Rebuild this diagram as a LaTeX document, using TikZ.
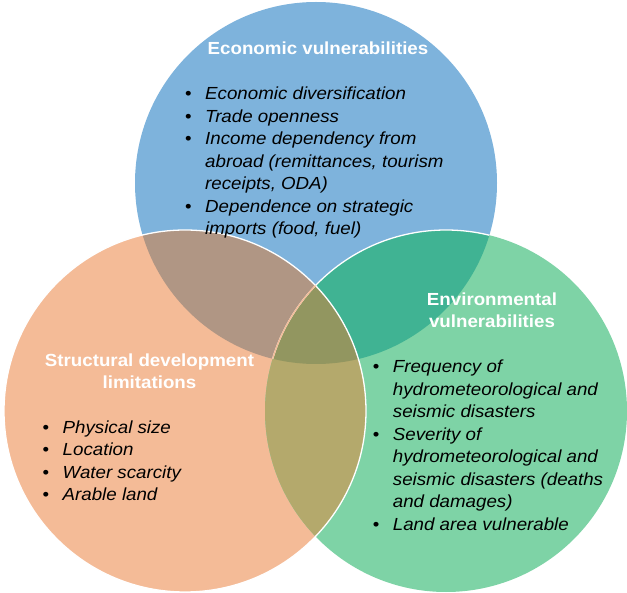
\documentclass[tikz,border=0pt]{standalone}
\usepackage{fontspec}
\setmainfont{Liberation Sans}[FakeStretch=1.07]
\definecolor{cblue}{HTML}{7EB3DC}
\definecolor{corange}{HTML}{F4BB97}
\definecolor{cgreen}{HTML}{7ED3A6}
\definecolor{cbo}{HTML}{B09684}
\definecolor{cbg}{HTML}{40B393}
\definecolor{cog}{HTML}{B4A96C}
\definecolor{cbog}{HTML}{929660}
\newcommand\bitem{\llap{\upshape •\hspace{13.5pt}}}
\tikzset{
  title/.style={inner sep=0pt, anchor=base, text=white, font={\fontsize{17.5}{21.5}\selectfont\bfseries}},
  blist/.style={inner sep=0pt, anchor=base west, text=black, font={\fontsize{17.5}{22.5}\selectfont\itshape}}
}
\begin{document}
\begin{tikzpicture}[x=1pt,y=-1pt]
\useasboundingbox (0,0) rectangle (627,593);
\coordinate (B) at (316,183);
\coordinate (O) at (185,411);
\coordinate (G) at (446,411);
\def\R{181pt}
\fill[cblue] (B) circle[radius=\R];
\fill[corange] (O) circle[radius=\R];
\fill[cgreen] (G) circle[radius=\R];
\begin{scope}\clip (B) circle[radius=\R]; \fill[cbo] (O) circle[radius=\R]; \end{scope}
\begin{scope}\clip (B) circle[radius=\R]; \fill[cbg] (G) circle[radius=\R]; \end{scope}
\begin{scope}\clip (O) circle[radius=\R]; \fill[cog] (G) circle[radius=\R]; \end{scope}
\begin{scope}\clip (B) circle[radius=\R]; \clip (O) circle[radius=\R]; \fill[cbog] (G) circle[radius=\R]; \end{scope}
\draw[white, line width=1.3pt] (O) circle[radius=\R];
\begin{scope}\clip (B) circle[radius=\R]; \draw[white, line width=1.3pt] (G) circle[radius=\R]; \end{scope}
\begin{scope}\clip (B) circle[radius=\R]; \clip (O) circle[radius=\R]; \draw[corange, line width=1.3pt] (G) circle[radius=\R]; \end{scope}

\node[title] (econtitle) at (318,54.3) {Economic vulnerabilities};
\node[blist] (econlist) at (205,100) {\begin{tabular}[t]{@{}l@{}}
\bitem Economic diversification\\
\bitem Trade openness\\
\bitem Income dependency from\\
abroad (remittances, tourism\\
receipts, ODA)\\
\bitem Dependence on strategic\\
imports (food, fuel)
\end{tabular}};

\node[title] (structtitle) at (149.5,366.7) {\begin{tabular}[t]{@{}c@{}}Structural development\\limitations\end{tabular}};
\node[blist] (structlist) at (62.5,433.3) {\begin{tabular}[t]{@{}l@{}}
\bitem Physical size\\
\bitem Location\\
\bitem Water scarcity\\
\bitem Arable land
\end{tabular}};

\node[title] (envtitle) at (492,306) {\begin{tabular}[t]{@{}c@{}}Environmental\\vulnerabilities\end{tabular}};
\node[blist] (envlist) at (392.7,372.7) {\begin{tabular}[t]{@{}l@{}}
\bitem Frequency of\\
hydrometeorological and\\
seismic disasters\\
\bitem Severity of\\
hydrometeorological and\\
seismic disasters (deaths\\
and damages)\\
\bitem Land area vulnerable
\end{tabular}};
\end{tikzpicture}
\end{document}
